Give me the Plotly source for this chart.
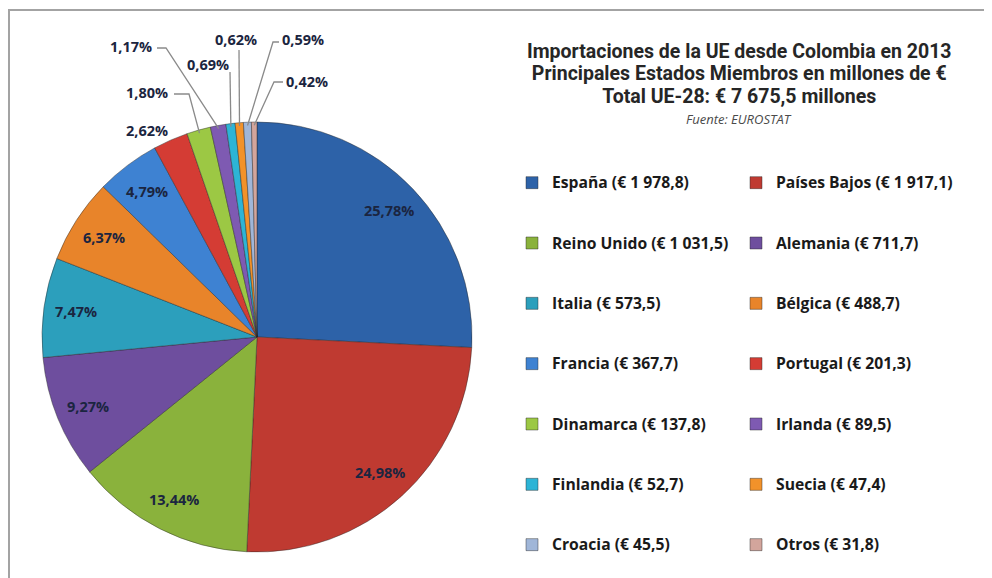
import math
import plotly.graph_objects as go

# ---------------- data ----------------
countries = ["España", "Países Bajos", "Reino Unido", "Alemania", "Italia", "Bélgica",
             "Francia", "Portugal", "Dinamarca", "Irlanda", "Finlandia", "Suecia",
             "Croacia", "Otros"]
values = [1978.8, 1917.1, 1031.5, 711.7, 573.5, 488.7, 367.7, 201.3, 137.8, 89.5,
          52.7, 47.4, 45.5, 31.8]
pct_labels = ["25,78%", "24,98%", "13,44%", "9,27%", "7,47%", "6,37%", "4,79%",
              "2,62%", "1,80%", "1,17%", "0,69%", "0,62%", "0,59%", "0,42%"]
colors = ["#2D62A8", "#BF3A31", "#8AB23C", "#6E4E9E", "#2C9FBC", "#E8842A",
          "#3E82D2", "#D43C34", "#9CC844", "#7E5AB2", "#2DB4D6", "#F2922A",
          "#A0B6D8", "#D3A59C"]
title_lines = ["Importaciones de la UE desde Colombia en 2013",
               "Principales Estados Miembros en millones de €",
               "Total UE-28: € 7 675,5 millones"]
source_text = "Fuente: EUROSTAT"

# ---------------- layout constants (pixels, page coordinates) ----------------
W, H = 992, 578
OFF = 8                       # page body margin the figure sits behind
PW = 512                      # plot-area width; right margin holds the legend
CX, CY, R = 257, 337, 215     # pie centre / radius
FONT = "Open Sans"
TITLE_FONT = "Roboto"
LABEL_COLOR = "#1B2540"

def px(x):
    return (x - OFF) / PW

def py(y):
    return 1 - (y - OFF) / H

def fmt_eur(v):
    s = f"{v:,.1f}".replace(",", " ").replace(".", ",")
    return f"€ {s}"

total = sum(values)

# padded legend labels so rows are spaced like the original
legend_labels = [f"<br><span style='font-size:15.7px'>{c} ({fmt_eur(v)})</span><br>"
                 for c, v in zip(countries, values)]

# mid angle of every slice (clockwise from 12 o'clock)
mids = []
cum = 0.0
for v in values:
    mids.append((cum + v / 2) / total * 2 * math.pi)
    cum += v

def edge_point(i, frac):
    a = mids[i]
    return CX + R * frac * math.sin(a), CY - R * frac * math.cos(a)

fig = go.Figure()
fig.add_trace(go.Pie(
    values=values,
    labels=legend_labels,
    sort=False,
    direction="clockwise",
    rotation=0,
    textinfo="none",
    hoverinfo="skip",
    marker=dict(colors=colors, line=dict(color="rgba(40,40,40,0.55)", width=0.8)),
    domain=dict(x=[px(CX - R), px(CX + R)], y=[py(CY + R), py(CY - R)]),
    showlegend=True,
))

annotations = []
shapes = []
label_font = dict(family=FONT, size=14.5, color=LABEL_COLOR)

# inside labels for the large slices
n_inside = 7
for i in range(n_inside):
    x, y = edge_point(i, 0.85)
    annotations.append(dict(x=px(x), y=py(y), xref="paper", yref="paper",
                            xanchor="center", yanchor="middle",
                            text=f"<b>{pct_labels[i]}</b>", showarrow=False,
                            font=label_font))

# outside labels (label placement in pixels) with leader lines
outside = {
    7: dict(pos=(147, 130), elbow=None),
    8: dict(pos=(147, 92), elbow=[(174, 94), (189, 94)]),
    9: dict(pos=(131, 46), elbow=[(157, 48), (166, 48)]),
    10: dict(pos=(208, 64), elbow=[(230, 72)]),
    11: dict(pos=(236, 40), elbow=[(239, 50)]),
    12: dict(pos=(303, 40), elbow=[(279, 42), (273, 42)]),
    13: dict(pos=(307, 82), elbow=[(283, 82), (274, 82)]),
}
for i, d in outside.items():
    x, y = d["pos"]
    annotations.append(dict(x=px(x), y=py(y), xref="paper", yref="paper",
                            xanchor="center", yanchor="middle",
                            text=f"<b>{pct_labels[i]}</b>", showarrow=False,
                            font=label_font))
    if d["elbow"]:
        tx, ty = edge_point(i, 0.985)
        pts = d["elbow"] + [(tx, ty)]
        path = "M " + " L ".join(f"{px(a):.5f},{py(b):.5f}" for a, b in pts)
        shapes.append(dict(type="path", path=path, xref="paper", yref="paper",
                           line=dict(color="#8A8A8A", width=1.3)))

# title block (one text block; base size sets the line spacing)
title_html = "<br>".join(f"<b><span style='font-size:19.5px'>{t}</span></b>"
                         for t in title_lines)
annotations.append(dict(x=px(739), y=py(38), xref="paper", yref="paper",
                        xanchor="center", yanchor="top", align="center",
                        text=title_html, showarrow=False,
                        font=dict(family=TITLE_FONT, size=17.3, color="#262626")))
annotations.append(dict(x=px(739), y=py(119), xref="paper", yref="paper",
                        xanchor="center", yanchor="middle", align="center",
                        text="<i>" + source_text + "</i>", showarrow=False,
                        font=dict(family=FONT, size=13, color="#4A4A4A")))

# outer frame of the chart area
shapes.append(dict(type="rect", xref="paper", yref="paper",
                   x0=px(9), x1=px(1010), y0=py(600), y1=py(10),
                   line=dict(color="#A3A3A3", width=2), layer="below"))

fig.update_layout(
    width=W, height=H,
    margin=dict(l=0, r=W - PW, t=0, b=0, autoexpand=False),
    paper_bgcolor="white", plot_bgcolor="white",
    annotations=annotations,
    shapes=shapes,
    legend=dict(
        orientation="h",
        x=px(512), xanchor="left", xref="paper",
        y=py(147.5), yanchor="top",
        entrywidth=179, entrywidthmode="pixels",
        valign="middle",
        maxheight=560,
        font=dict(family=FONT, size=14.7, color="#1A1A1A", weight="bold"),
        bgcolor="rgba(0,0,0,0)",
        traceorder="normal",
    ),
)

fig.write_html("out.html")
